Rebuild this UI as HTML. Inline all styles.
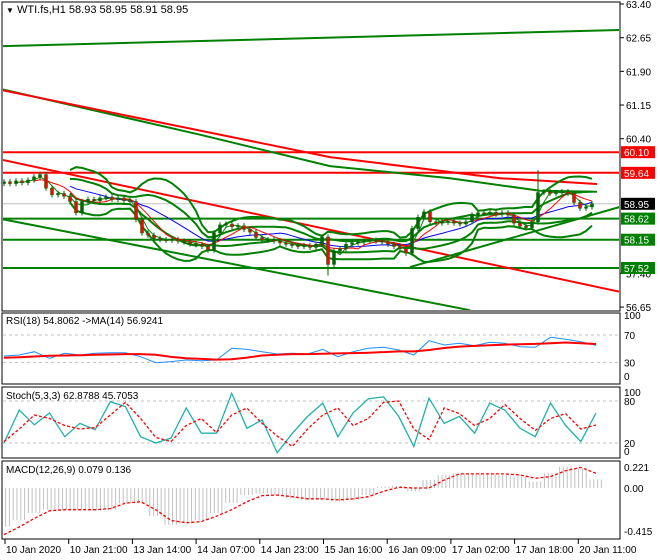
<!DOCTYPE html>
<html><head><meta charset="utf-8">
<style>
html,body{margin:0;padding:0;background:#fff;}
svg{display:block;font-family:"Liberation Sans",sans-serif;}
</style></head>
<body>
<svg id="chart" width="660" height="560" viewBox="0 0 660 560">
  <rect x="0" y="0" width="660" height="560" fill="#fff"/>
  <g id="panels">
    <rect x="2" y="2" width="618" height="309" fill="none" stroke="#000"/>
    <rect x="2" y="313" width="618" height="71" fill="none" stroke="#000"/>
    <rect x="2" y="387" width="618" height="71" fill="none" stroke="#000"/>
    <rect x="2" y="461" width="618" height="78" fill="none" stroke="#000"/>
  </g>
  <g id="main"></g>
  <g id="ind"></g>
  <g id="axes" font-size="10"></g>
  <text x="6" y="13" font-size="11"><tspan font-size="8">▼</tspan> WTI.fs,H1  58.93 58.95 58.91 58.95</text>
  <text x="6" y="324" font-size="10">RSI(18) 54.8062  -&gt;MA(14) 56.9241</text>
  <text x="6" y="399" font-size="10">Stoch(5,3,3) 62.8788 45.7053</text>
  <text x="6" y="473" font-size="10">MACD(12,26,9) 0.079 0.136</text>
</svg>
<script>
const closes = [59.44,59.40,59.46,59.42,59.48,59.55,59.60,59.30,59.15,59.18,59.12,59.00,58.75,59.00,59.05,59.02,59.08,59.10,59.05,59.08,
59.02,59.00,58.60,58.30,58.25,58.18,58.15,58.14,58.16,58.12,58.10,58.06,58.04,58.00,57.92,58.30,58.48,58.50,58.44,58.46,
58.38,58.32,58.20,58.14,58.15,58.12,58.08,58.05,58.02,58.00,58.02,57.98,58.05,58.21,57.60,57.90,57.95,58.05,58.08,58.10,
58.12,58.14,58.12,58.10,58.05,58.00,57.95,57.85,58.40,58.65,58.77,58.55,58.52,58.54,58.56,58.52,58.50,58.55,58.70,58.75,
58.74,58.76,58.72,58.75,58.70,58.52,58.45,58.42,58.55,59.20,59.22,59.18,59.20,59.22,59.18,58.98,58.85,58.88,58.95];
const firstOpen = 59.40;
const spikeHighs = {54: 57.35, 89: 59.70};
const levelsRed = [60.10, 59.64];
const levelsGreen = [58.62, 58.15, 57.52];
const currentPrice = 58.95;
const priceTicks = ["63.40","62.65","61.90","61.15","60.40","57.40","56.65"];
const timeLabels = ["10 Jan 2020","10 Jan 21:00","13 Jan 14:00","14 Jan 07:00","14 Jan 23:00","15 Jan 16:00","16 Jan 09:00","17 Jan 02:00","17 Jan 18:00","20 Jan 11:00"];
const rsi = [39.3,40.7,45.6,35.8,43.2,40.7,43.2,44,44,38.3,29.5,31,33.4,32.4,33.4,50.5,49,45.6,42.2,43.2,42.2,49,38.3,45.6,50.5,52,48,40.7,61.7,55.4,57.8,54.4,59.3,57.8,52.9,52,66.6,63.7,60.2,54.8];
const rsiMa = [36.8,37.5,38.5,39.5,40,40.5,41,41.5,42,42,41,38,36,35,34,34.5,37,40,41,42,42,42.5,43,43.5,44,45,46,46,48,51,53,54,55,56,56.5,57,58,59,58,56.9];
const stochMain = [20,67,46,63,29,48,39,79,72,29,20,27,70,34,34,91,41,53,6,34,58,77,29,63,83,86,58,15,84,48,58,34,77,67,41,29,77,45,22,62.9];
const stochSig = [22,40,60,55,45,40,42,60,78,55,28,22,45,55,35,60,70,48,30,15,40,60,70,45,55,78,80,40,25,70,62,45,55,75,55,38,55,62,40,45.7];
const macdHist = [-0.357,-0.295,-0.23,-0.2,-0.2,-0.2,-0.21,-0.2,-0.14,-0.14,-0.26,-0.34,-0.33,-0.3,-0.23,-0.14,-0.065,-0.05,-0.065,-0.095,-0.11,-0.11,-0.126,-0.11,-0.065,0.01,0.02,-0.03,0.074,0.12,0.135,0.135,0.135,0.12,0.105,0.06,0.135,0.196,0.18,0.079];
const macdSig = [-0.43,-0.36,-0.28,-0.21,-0.2,-0.2,-0.2,-0.19,-0.14,-0.126,-0.2,-0.3,-0.32,-0.31,-0.26,-0.2,-0.126,-0.07,-0.065,-0.08,-0.1,-0.1,-0.11,-0.1,-0.08,-0.03,0.006,0,0,0.074,0.13,0.13,0.13,0.13,0.12,0.09,0.105,0.16,0.19,0.136];
const trendGreenTop = [[2,62.46],[620,62.82]];
const trendRedCurve = [[2,61.48],[330,59.99],[500,59.52],[597,59.39]];
const trendGreenCurve = [[2,61.50],[200,60.49],[330,59.79],[450,59.52],[540,59.24],[597,59.22]];
const trendRed2 = [[2,59.93],[620,56.99]];
const trendGreenDown = [[2,58.61],[470,56.58]];
const trendGreenUp = [[410,57.54],[620,58.88]];

const NS='http://www.w3.org/2000/svg';
const main=document.getElementById('main'), ind=document.getElementById('ind'), axes=document.getElementById('axes');
function mk(tag,attrs,parent){const e=document.createElementNS(NS,tag);for(const k in attrs)e.setAttribute(k,attrs[k]);parent.appendChild(e);return e;}
const py = p => 4 + (63.40 - p) * 44.9;
const bx = i => 4 + i * 6;
const ix = (k,n) => 4 + k * (592 / (n - 1));
const ry = v => 310 + (218.5 - 2.05 * v) / 3;
const sy = v => 443 - (v - 20) * 0.7;
const my = v => 488 - v * 108.4;

const defs=mk('defs',{},document.getElementById('chart'));
const cp=mk('clipPath',{id:'mc'},defs); mk('rect',{x:3,y:3,width:616,height:307},cp);
main.setAttribute('clip-path','url(#mc)');
const cp2=mk('clipPath',{id:'mcd'},defs); mk('rect',{x:3,y:462,width:616,height:76},cp2);

function poly(pts,attrs,parent,name){const l=mk('polyline',Object.assign({points:pts.map(p=>p[0].toFixed(1)+','+p[1].toFixed(1)).join(' '),fill:'none'},attrs),parent);


return l;}

poly([[3,py(currentPrice)],[620,py(currentPrice)]],{stroke:'#c0c0c0','stroke-width':1},main,'current-price-line');
levelsRed.forEach(v=>poly([[3,py(v)],[620,py(v)]],{stroke:'#ff0000','stroke-width':2},main,'resistance-level'));
levelsGreen.forEach(v=>poly([[3,py(v)],[620,py(v)]],{stroke:'#008000','stroke-width':2},main,'support-level'));
const tl=(arr,c,n)=>poly(arr.map(a=>[a[0],py(a[1])]),{stroke:c,'stroke-width':2},main,n);
tl(trendGreenTop,'#008000','trendline-top');
tl(trendGreenCurve,'#008000','channel-green');
tl(trendRedCurve,'#ff0000','channel-red');
tl(trendRed2,'#ff0000','trendline-red');
tl(trendGreenDown,'#008000','trendline-green-down');
tl(trendGreenUp,'#008000','trendline-green-up');

function sma(n){return closes.map((c,i)=>{if(i<n-1)return null;let s=0;for(let j=i-n+1;j<=i;j++)s+=closes[j];return s/n;});}
function sd(n,m){return closes.map((c,i)=>{if(m[i]==null)return null;let s=0;for(let j=i-n+1;j<=i;j++)s+=(closes[j]-m[i])**2;return Math.sqrt(s/n);});}
const ma12=sma(12), sd12=sd(12,ma12), ma6=sma(6), ma3=sma(3);
const bandPts=(f)=>ma12.map((m,i)=>m==null?null:[bx(i),py(f(m,sd12[i]))]).filter(Boolean);
poly(bandPts((m,s)=>m+2*s),{stroke:'#008000','stroke-width':2},main,'bollinger-upper');
poly(bandPts((m,s)=>m-2*s),{stroke:'#008000','stroke-width':2},main,'bollinger-lower');
poly(bandPts((m,s)=>m+0.9*s),{stroke:'#008000','stroke-width':2},main,'envelope-upper');
poly(bandPts((m,s)=>m-0.9*s),{stroke:'#008000','stroke-width':2},main,'envelope-lower');
poly(ma12.map((m,i)=>m==null?null:[bx(i),py(m)]).filter(Boolean),{stroke:'#0000ff','stroke-width':1},main,'ma-blue');
poly(ma6.map((m,i)=>m==null?null:[bx(i),py(m)]).filter(Boolean),{stroke:'#ff0000','stroke-width':1},main,'ma-red');
poly(ma3.map((m,i)=>m==null?null:[bx(i),py(m)]).filter(Boolean),{stroke:'#008000','stroke-width':1},main,'ma-green');

closes.forEach((c,i)=>{
  const o=i===0?firstOpen:closes[i-1];
  const hi=Math.max(o,c)+0.06, lo=Math.min(o,c)-0.06;
  const h=spikeHighs[i]!==undefined&&spikeHighs[i]>hi?spikeHighs[i]:hi;
  const l=spikeHighs[i]!==undefined&&spikeHighs[i]<lo?spikeHighs[i]:lo;
  const g=mk('g',{},main);
  
  
  mk('line',{x1:bx(i),x2:bx(i),y1:py(h),y2:py(l),stroke:'#006400','stroke-width':1},g);
  const top=py(Math.max(o,c)), bot=py(Math.min(o,c));
  mk('rect',{x:bx(i)-1.5,y:top,width:3,height:Math.max(1,bot-top),fill:c>=o?'#006400':'#ff0000',stroke:'#006400','stroke-width':0.5},g);
});

[70,30].forEach(v=>{const l=mk('line',{x1:3,x2:619,y1:ry(v),y2:ry(v),stroke:'#c0c0c0','stroke-dasharray':'3,3'},ind);

});
poly(rsi.map((v,k)=>[ix(k,rsi.length),ry(v)]),{stroke:'#1e90ff','stroke-width':1},ind,'rsi-line');
poly(rsiMa.map((v,k)=>[ix(k,rsiMa.length),ry(v)]),{stroke:'#ff0000','stroke-width':2},ind,'rsi-ma-line');
[80,20].forEach(v=>{const l=mk('line',{x1:3,x2:619,y1:sy(v),y2:sy(v),stroke:'#c0c0c0','stroke-dasharray':'3,3'},ind);

});
poly(stochMain.map((v,k)=>[ix(k,stochMain.length),sy(v)]),{stroke:'#20b2aa','stroke-width':1.3},ind,'stoch-main');
poly(stochSig.map((v,k)=>[ix(k,stochSig.length),sy(v)]),{stroke:'#ff0000','stroke-width':1.3,'stroke-dasharray':'3,2'},ind,'stoch-signal');

const mg=mk('g',{'clip-path':'url(#mcd)'},ind);
const step=592/(macdHist.length-1);
macdHist.forEach((v,k)=>{
  const g=mk('g',{},mg);
  
  
  const x0=ix(k,macdHist.length);
  for(let d=-6;d<=6;d+=3.8){
    mk('line',{x1:x0+d,x2:x0+d,y1:my(0),y2:my(v),stroke:'#c0c0c0','stroke-width':1},g);
  }
});
poly(macdSig.map((v,k)=>[ix(k,macdSig.length),my(v)]),{stroke:'#ff0000','stroke-width':1.3,'stroke-dasharray':'3,2'},mg,'macd-signal');

priceTicks.forEach(t=>{const y=py(parseFloat(t));
  mk('line',{x1:620,x2:624,y1:y,y2:y,stroke:'#000'},axes);
  const tx=mk('text',{x:626,y:y+4},axes);tx.textContent=t;
  
  });
function tag(v,bg,name){const y=py(v);
  const g=mk('g',{},axes);
  
  
  mk('rect',{x:621,y:y-6,width:34,height:12,fill:bg},g);
  const t=mk('text',{x:624,y:y+4,fill:'#fff'},g);t.textContent=v.toFixed(2);}
levelsRed.forEach(v=>tag(v,'#ff0000','level-tag-red'));
levelsGreen.forEach(v=>tag(v,'#008000','level-tag-green'));
tag(currentPrice,'#000','current-price-tag');
[[ "100",319],["70",ry(70)+4],["30",ry(30)+4],["0",380],["100",396],["80",sy(80)+4],["20",sy(20)+4],["0",455],["0.221",471],["0.00",my(0)+4],["-0.415",535]].forEach(a=>{
  const t=mk('text',{x:624,y:a[1]},axes);t.textContent=a[0];
  
  });
timeLabels.forEach((s,k)=>{const x=5+k*63.7;
  mk('line',{x1:x,x2:x,y1:539,y2:544,stroke:'#000'},axes);
  const t=mk('text',{x:x+1,y:553},axes);t.textContent=s;
  
  });
</script>
</body></html>
